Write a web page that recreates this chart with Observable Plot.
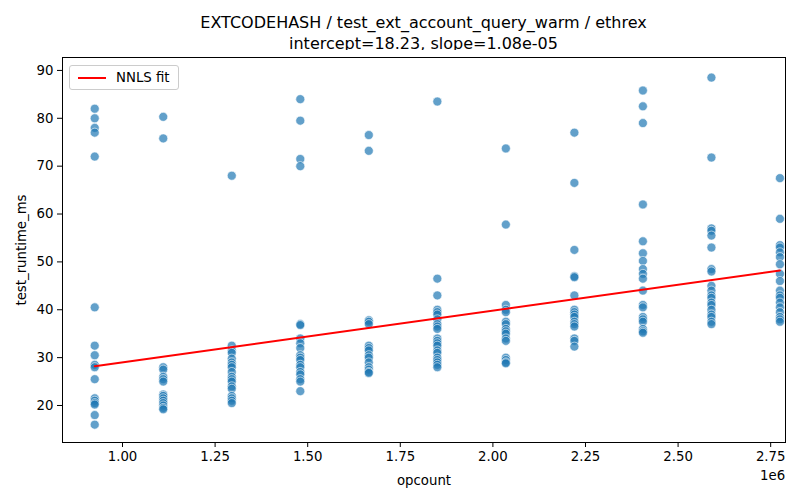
<!DOCTYPE html>
<html><head><meta charset="utf-8">
<script src="https://cdn.jsdelivr.net/npm/d3@7"></script>
<script src="https://cdn.jsdelivr.net/npm/@observablehq/plot@0.6"></script>
<style>
body{margin:0;background:#fff;font-family:"DejaVu Sans",sans-serif;}
#wrap{position:relative;width:800px;height:500px;}
#title{position:absolute;left:62px;width:723px;top:12px;text-align:center;font-size:16px;line-height:21px;color:#000;}
#chart{position:absolute;left:0;top:50px;}
#legend{position:absolute;left:69px;top:65px;border:1px solid #ccc;border-radius:3px;background:rgba(255,255,255,0.8);padding:4px 8px;font-size:13.3px;display:flex;align-items:center;gap:10px;}
#legend span.l{display:inline-block;width:28px;height:0;border-top:2px solid red;}
#e6{position:absolute;left:760px;top:468px;font-size:13.3px;}
</style></head><body>
<div id="wrap">
<div id="title">EXTCODEHASH / test_ext_account_query_warm / ethrex<br>intercept=18.23, slope=1.08e-05</div>
<div id="chart"></div>
<div id="legend"><span class="l"></span><span>NNLS fit</span></div>
<div id="e6">1e6</div>
</div>
<script>
const opcounts = [925000,1110000,1295000,1480000,1665000,1850000,2035000,2220000,2405000,2590000,2775000];
const runtimes = [
 [82,80,78,77,72,40.5,32.5,30.5,28.5,28,25.5,21.5,21,20.5,20.2,18,16],
 [80.3,75.8,28,27.5,26,25.5,25,22.3,22,21.5,21,20.5,20,19.5,19.2],
 [68,32.5,31.5,31,29.8,29,28.5,28,27,26,25.5,25,24,23.5,22,21.5,21,20.5],
 [84,79.5,71.5,70,37,36.8,34,33,32,30.5,30,29.5,28.5,28,27,26.5,25.5,25,23],
 [76.5,73.2,37.8,37.5,37,32.5,32,31.5,30.5,30,29,28,27.5,27,26.8],
 [83.5,46.5,43,40,39.5,39,38,37,36.5,36,34,33.5,33,32.5,31.5,31,30,29.5,29,28.5,28],
 [73.7,57.8,41,40,39.5,37.5,37,36,35.5,35,34,33.5,30,29.5,29,28.8],
 [77,66.5,52.5,47,46.8,43,40,39.5,39,38.5,37.5,37,36.5,34,33.5,32.3],
 [85.8,82.5,79,62,54.3,51.8,50.2,48.5,47.5,46.5,44,41,40.5,38.5,38,37.5,36,35.5,35.2],
 [88.5,71.8,57,56.5,55.5,53,48.5,48,45,44,43,42.5,41.5,41,40,39,38.5,37.5,37],
 [67.5,59,53.5,53,52,51,49.5,47.5,46,44,43,42.5,41.5,40.5,39.5,38.5,38,37.5]
];
const intercept = 18.23, slope = 1.08e-5;
const xTicks = [1.0e6,1.25e6,1.5e6,1.75e6,2.0e6,2.25e6,2.5e6,2.75e6];
const yTicks = [20,30,40,50,60,70,80,90];

const pts = opcounts.flatMap((x,i)=>runtimes[i].map(y=>({x,y})));
const fit = [opcounts[0], opcounts[opcounts.length-1]].map(x=>({x, y: intercept + slope*x}));

const plot = Plot.plot({
  width: 800, height: 450,
  marginLeft: 62, marginRight: 15, marginTop: 7, marginBottom: 58,
  style: {fontFamily: "DejaVu Sans, sans-serif", fontSize: "13.3px", color: "#000", background: "#fff"},
  x: {domain: [0.838e6, 2.79e6], ticks: xTicks, tickFormat: d => (d/1e6).toFixed(2), label: "opcount", labelAnchor: "center", labelArrow: "none", labelOffset: 42, tickSize: 5},
  y: {domain: [12.27, 92.7], ticks: yTicks, label: "test_runtime_ms", labelAnchor: "center", labelArrow: "none", labelOffset: 46, tickSize: 5},
  marks: [
    Plot.dot(pts, {x: "x", y: "y", r: 4.5, fill: "#1f77b4", fillOpacity: 0.7, stroke: "white", strokeWidth: 0.6}),
    Plot.line(fit, {x: "x", y: "y", stroke: "red", strokeWidth: 2}),
    Plot.frame({stroke: "#000"})
  ]
});
document.getElementById("chart").appendChild(plot);
</script>
</body></html>
